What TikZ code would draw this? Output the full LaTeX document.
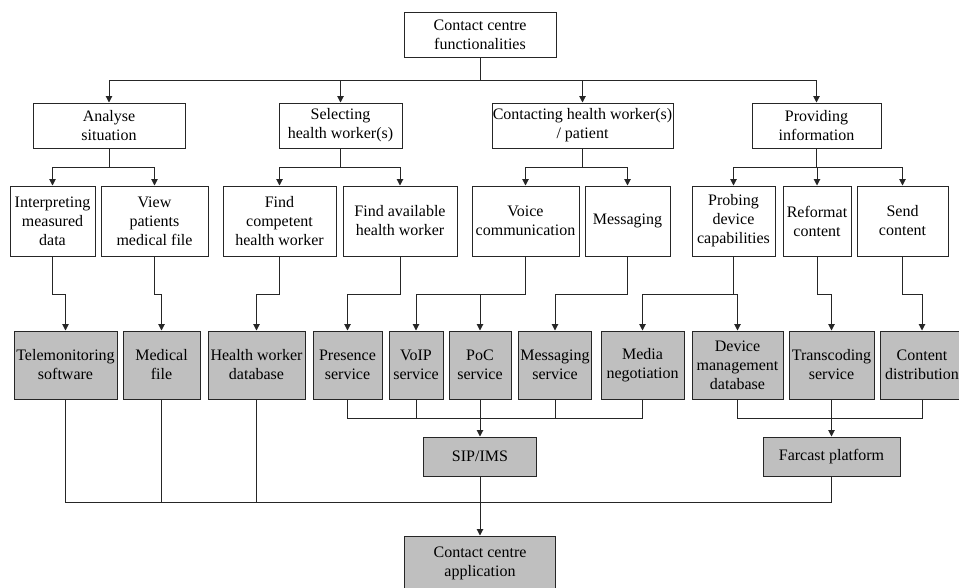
\documentclass[tikz,border=0pt]{standalone}
\usepackage{fontspec}
\setmainfont{Liberation Serif}
\usetikzlibrary{arrows.meta}
\begin{document}
\begin{tikzpicture}[x=1pt,y=-1pt,
  box/.style={draw=black!85, line width=1pt, fill=white, inner sep=0pt, align=center,
              font=\fontsize{16}{19}\selectfont},
  gbox/.style={box, fill=gray!50},
  ln/.style={draw=black!85, line width=1pt},
  arr/.style={ln, -{Triangle[length=6.5pt,width=6.5pt]}}
]
\clip (0,0) rectangle (959,587);
\fill[white] (0,0) rectangle (959,587);
\coordinate (b0) at (0,80);
\coordinate (b1) at (0,167);
\coordinate (b2) at (0,294);
\coordinate (b3) at (0,418);
\coordinate (b4) at (0,502);

% level 1
\node[box, minimum width=152, minimum height=45] (top) at (480,34.5) {Contact centre\\functionalities};
% level 2
\node[box, minimum width=152, minimum height=45] (ana) at (109,125.5) {Analyse\\situation};
\node[box, minimum width=123, minimum height=45] (sel) at (340.5,125.5) {Selecting\\health worker(s)};
\node[box, minimum width=181, minimum height=45] (con) at (582.5,125.5) {Contacting health worker(s)\\/ patient};
\node[box, minimum width=129, minimum height=45] (pro) at (816.5,125.5) {Providing\\information};
% level 3
\node[box, minimum width=85, minimum height=70] (int) at (52.5,221) {Interpreting\\measured\\data};
\node[box, minimum width=107, minimum height=70] (vie) at (154.5,221) {View\\patients\\medical file};
\node[box, minimum width=113, minimum height=70] (fic) at (279.5,221) {Find\\competent\\health worker};
\node[box, minimum width=114, minimum height=70] (fia) at (400,221) {Find available\\health worker};
\node[box, minimum width=107, minimum height=70] (voi) at (525.5,221) {Voice\\communication};
\node[box, minimum width=85, minimum height=70] (mes) at (627.5,221) {Messaging};
\node[box, minimum width=83, minimum height=70] (prb) at (733.5,221) {Probing\\device\\capabilities};
\node[box, minimum width=68, minimum height=70] (ref) at (817,221) {Reformat\\content};
\node[box, minimum width=91, minimum height=70] (snd) at (902.5,221) {Send\\content};
% level 4
\node[gbox, minimum width=103, minimum height=68] (tel) at (65.5,365) {Telemonitoring\\software};
\node[gbox, minimum width=77, minimum height=68] (med) at (161.5,365) {Medical\\file};
\node[gbox, minimum width=97, minimum height=68] (hwd) at (256.5,365) {Health worker\\database};
\node[gbox, minimum width=69, minimum height=68] (prs) at (347.5,365) {Presence\\service};
\node[gbox, minimum width=54, minimum height=68] (voip) at (416,365) {VoIP\\service};
\node[gbox, minimum width=62, minimum height=68] (poc) at (480,365) {PoC\\service};
\node[gbox, minimum width=73, minimum height=68] (msv) at (555,365) {Messaging\\service};
\node[gbox, minimum width=83, minimum height=68] (mng) at (642.5,365) {Media\\negotiation};
\node[gbox, minimum width=91, minimum height=68] (dmd) at (737.5,365) {Device\\management\\database};
\node[gbox, minimum width=85, minimum height=68] (trn) at (831.5,365) {Transcoding\\service};
\node[gbox, minimum width=84, minimum height=68] (cdi) at (922,365) {Content\\distribution};
% level 5
\node[gbox, minimum width=113, minimum height=39] (sip) at (480,456.5) {SIP/IMS};
\node[gbox, minimum width=137, minimum height=39] (far) at (831.5,456.5) {Farcast platform};
\node[gbox, minimum width=151, minimum height=54] (app) at (480,563) {Contact centre\\application};

% connectors level 1 -> 2
\foreach \n in {ana,sel,con,pro}
  \draw[arr] (top.south) -- (top.south|-b0) -| (\n.north);
% level 2 -> 3
\foreach \p/\c in {ana/int,ana/vie,sel/fic,sel/fia,con/voi,con/mes,pro/prb,pro/ref,pro/snd}
  \draw[arr] (\p.south) -- (\p.south|-b1) -| (\c.north);
% level 3 -> 4
\foreach \p/\c in {int/tel,vie/med,fic/hwd,fia/prs,voi/voip,voi/poc,mes/msv,prb/mng,prb/dmd,ref/trn,snd/cdi}
  \draw[arr] (\p.south) -- (\p.south|-b2) -| (\c.north);
% level 4 -> SIP/IMS
\draw[ln] (prs.south) -- (prs.south|-b3) -- (mng.south|-b3) -- (mng.south);
\draw[ln] (voip.south) -- (voip.south|-b3);
\draw[ln] (msv.south) -- (msv.south|-b3);
\draw[arr] (poc.south) -- (sip.north);
% level 4 -> Farcast
\draw[ln] (dmd.south) -- (dmd.south|-b3) -- (cdi.south|-b3) -- (cdi.south);
\draw[arr] (trn.south) -- (far.north);
% bottom bus
\draw[ln] (tel.south) -- (tel.south|-b4) -- (far.south|-b4) -- (far.south);
\draw[ln] (med.south) -- (med.south|-b4);
\draw[ln] (hwd.south) -- (hwd.south|-b4);
\draw[arr] (sip.south) -- (app.north);
\end{tikzpicture}
\end{document}
